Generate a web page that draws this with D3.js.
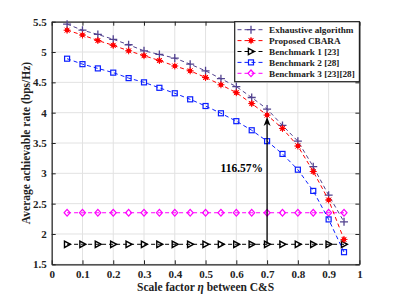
<!DOCTYPE html>
<html><head><meta charset="utf-8">
<script src="https://cdn.jsdelivr.net/npm/d3@7"></script>
<style>body{margin:0;background:#fff}svg{display:block}
svg text{font-family:"Liberation Serif","Times New Roman","DejaVu Serif",serif !important;font-weight:bold}</style>
</head><body>
<svg id="c" width="397" height="297"></svg>
<script>
const etaValues = [0.05,0.1,0.15,0.2,0.25,0.3,0.35,0.4,0.45,0.5,0.55,0.6,0.65,0.7,0.75,0.8,0.85,0.9,0.95];
const exhaustive = [5.46,5.36,5.29,5.21,5.12,5.02,4.96,4.90,4.80,4.69,4.56,4.43,4.25,4.06,3.79,3.53,3.11,2.64,2.20];
const cbara = [5.36,5.28,5.19,5.11,5.02,4.94,4.86,4.77,4.69,4.58,4.46,4.33,4.15,3.96,3.74,3.45,3.03,2.56,1.91];
const bench1 = [1.83,1.83,1.83,1.83,1.83,1.83,1.83,1.83,1.83,1.83,1.83,1.83,1.83,1.83,1.83,1.83,1.83,1.83,1.83];
const bench2 = [4.89,4.80,4.73,4.66,4.57,4.50,4.41,4.32,4.22,4.11,3.99,3.86,3.71,3.53,3.32,3.06,2.71,2.24,1.70];
const bench3 = [2.35,2.35,2.35,2.35,2.35,2.35,2.35,2.35,2.35,2.35,2.35,2.35,2.35,2.35,2.35,2.35,2.35,2.35,2.35];
const seriesNames = ["Exhaustive algorithm","Proposed CBARA","Benchmark 1 [23]","Benchmark 2 [28]","Benchmark 3 [23][28]"];
const xTicks = [0,0.1,0.2,0.3,0.4,0.5,0.6,0.7,0.8,0.9,1];
const yTicks = [1.5,2,2.5,3,3.5,4,4.5,5,5.5];
const arrowX = 0.7, arrowFrom = 1.83, arrowTo = 3.93, arrowLabel = "116.57%";

const series = [
  {name:seriesNames[0], values:exhaustive, color:"#52428f", marker:"plus"},
  {name:seriesNames[1], values:cbara, color:"#ff0000", marker:"star"},
  {name:seriesNames[2], values:bench1, color:"#000000", marker:"tri"},
  {name:seriesNames[3], values:bench2, color:"#0a1eff", marker:"square"},
  {name:seriesNames[4], values:bench3, color:"#ff00ff", marker:"diamond"}
];

const svg = d3.select("#c");
const L=51.7, R=359.4, T=21.7, B=264.3;
const x = d3.scaleLinear().domain([0,1]).range([L,R]);
const y = d3.scaleLinear().domain([1.5,5.5]).range([B,T]);

// grid
const g = svg.append("g");
g.selectAll(".gx").data(xTicks).join("line").attr("x1",d=>x(d)).attr("x2",d=>x(d)).attr("y1",T).attr("y2",B).attr("stroke","#e2e2e2").attr("stroke-width",1);
g.selectAll(".gy").data(yTicks).join("line").attr("y1",d=>y(d)).attr("y2",d=>y(d)).attr("x1",L).attr("x2",R).attr("stroke","#e2e2e2").attr("stroke-width",1);

// axes
const ax = svg.append("g").attr("transform",`translate(0,${B})`).call(d3.axisBottom(x).tickValues(xTicks).tickSizeInner(-4).tickSizeOuter(0).tickPadding(6).tickFormat(d=>d===0?"0":d===1?"1":d3.format(".1f")(d)));
const axT = svg.append("g").attr("transform",`translate(0,${T})`).call(d3.axisTop(x).tickValues(xTicks).tickSizeInner(-4).tickSizeOuter(0).tickFormat(""));
const ay = svg.append("g").attr("transform",`translate(${L},0)`).call(d3.axisLeft(y).tickValues(yTicks).tickSizeInner(-4).tickSizeOuter(0).tickPadding(5).tickFormat(d=>d3.format("")(d)));
const ayR = svg.append("g").attr("transform",`translate(${R},0)`).call(d3.axisRight(y).tickValues(yTicks).tickSizeInner(-4).tickSizeOuter(0).tickFormat(""));
[ax,axT,ay,ayR].forEach(a=>{
  a.attr("font-family",null);
  a.selectAll("path.domain").attr("stroke","#222").attr("stroke-width",1.2);
  a.selectAll(".tick line").attr("stroke","#222");
  a.selectAll("text").attr("font-size","11px").attr("fill","#222");
});

// lines
const line = d3.line().x((d,i)=>x(etaValues[i])).y(d=>y(d));
function marker(sel, type, color){
  sel.each(function(){
    const m = d3.select(this);
    if(type==="plus"){
      m.append("path").attr("d","M-4,0H4M0,-4V4").attr("stroke",color).attr("stroke-width",1.3);
    } else if(type==="star"){
      m.append("circle").attr("r",2.3).attr("fill",color);
      m.append("path").attr("d","M-3.5,0H3.5M0,-3.5V3.5M-2.5,-2.5L2.5,2.5M-2.5,2.5L2.5,-2.5").attr("stroke",color).attr("stroke-width",1);
    } else if(type==="tri"){
      m.append("path").attr("d","M-2.6,-3.2L3.4,0L-2.6,3.2Z").attr("fill","none").attr("stroke",color).attr("stroke-width",1.4);
    } else if(type==="square"){
      m.append("rect").attr("x",-2.5).attr("y",-2.5).attr("width",5).attr("height",5).attr("fill","none").attr("stroke",color).attr("stroke-width",1.2);
    } else if(type==="diamond"){
      m.append("path").attr("d","M0,-3.3L3,0L0,3.3L-3,0Z").attr("fill","none").attr("stroke",color).attr("stroke-width",1.2);
    }
  });
}
const draw = [series[4], series[2], series[3], series[0], series[1]];
draw.forEach(s=>{
  svg.append("path").datum(s.values).attr("d",line).attr("fill","none").attr("stroke",s.color).attr("stroke-width",1).attr("stroke-dasharray","4,3");
  const mg = svg.append("g");
  mg.selectAll("g").data(s.values).join("g").attr("transform",(d,i)=>`translate(${x(etaValues[i])},${y(d)})`).call(marker, s.marker, s.color);
});

// arrow
const axp = x(arrowX);
svg.append("line").attr("x1",axp).attr("x2",axp).attr("y1",y(arrowFrom)).attr("y2",y(arrowTo)+6).attr("stroke","#000").attr("stroke-width",1.3);
svg.append("path").attr("d",`M${axp},${y(arrowTo)}L${axp-3.5},${y(arrowTo)+9}L${axp},${y(arrowTo)+6.5}L${axp+3.5},${y(arrowTo)+9}Z`).attr("fill","#000");
svg.append("text").attr("x",axp-4).attr("y",y(arrowTo)+55).attr("text-anchor","end").attr("font-size","11.5px").text(arrowLabel);

// legend
const lx0=234.7, ly0=T, lw=R-lx0, lh=60;
svg.append("rect").attr("x",lx0).attr("y",ly0).attr("width",lw).attr("height",lh).attr("fill","#fff").attr("stroke","#222").attr("stroke-width",1.2);
series.forEach((s,i)=>{
  const yy = ly0+8+i*10.9;
  const lg = svg.append("g");
  lg.append("line").attr("x1",237.5).attr("x2",265).attr("y1",yy).attr("y2",yy).attr("stroke",s.color).attr("stroke-width",1).attr("stroke-dasharray","4,3");
  lg.append("g").attr("transform",`translate(251,${yy})`).call(marker, s.marker, s.color);
  lg.append("text").attr("x",269).attr("y",yy+3.3).attr("font-size","9.2px").attr("fill","#222").text(s.name);
});

// axis labels
svg.append("text").attr("transform",`translate(30,${(T+B)/2}) rotate(-90)`).attr("text-anchor","middle").attr("font-size","11.5px").attr("fill","#222").text("Average achievable rate (bps/Hz)");
const xl = svg.append("text").attr("x",(L+R)/2).attr("y",291).attr("text-anchor","middle").attr("font-size","11.5px").attr("fill","#222");
xl.append("tspan").text("Scale factor ");
xl.append("tspan").attr("font-style","italic").text("η");
xl.append("tspan").text(" between C&S");
</script>
</body></html>
